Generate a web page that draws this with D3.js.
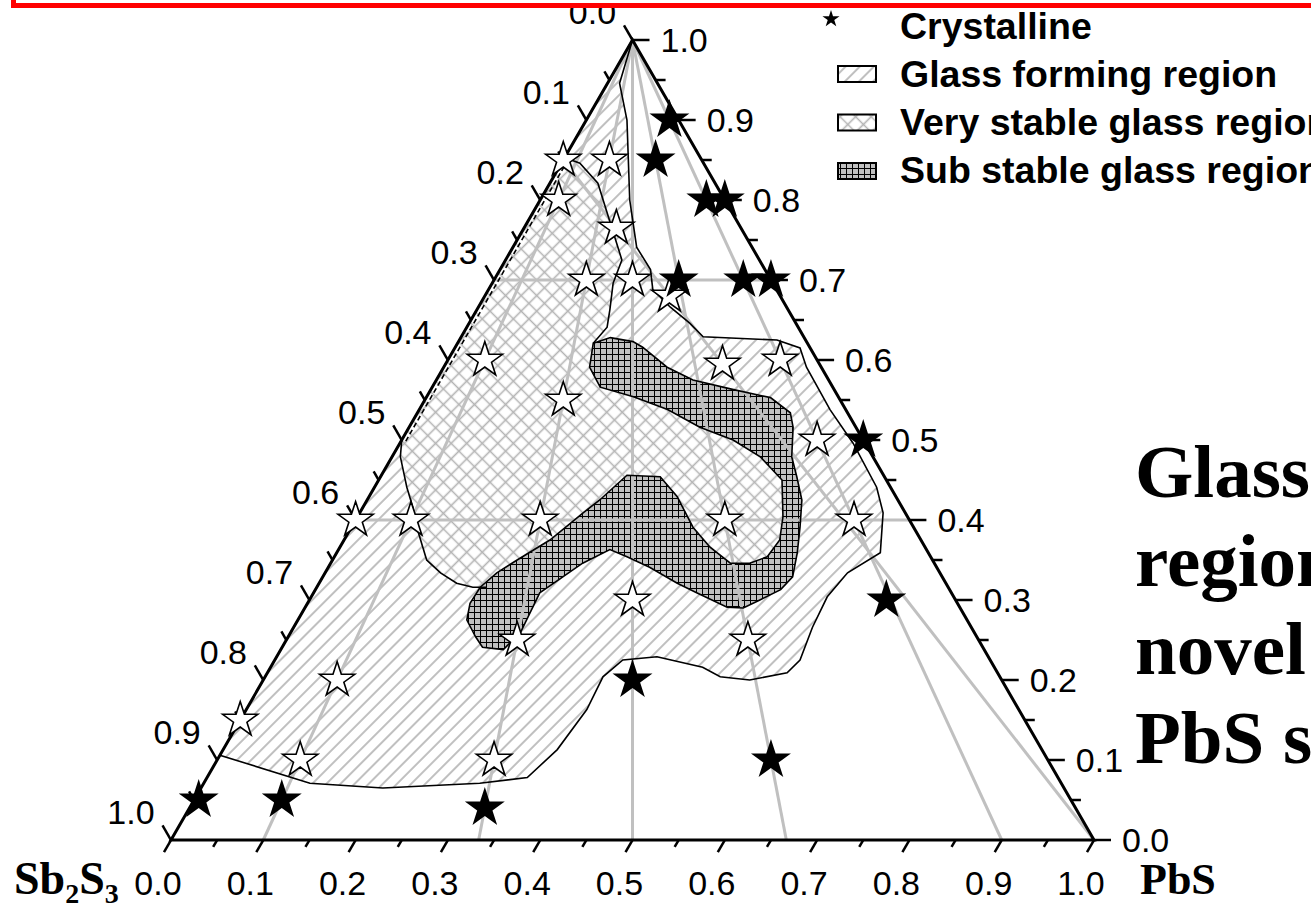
<!DOCTYPE html>
<html>
<head>
<meta charset="utf-8">
<script src="https://cdn.jsdelivr.net/npm/d3@7"></script>
<style>
  body { margin: 0; background: #fff; }
  svg { display: block; }
  text { font-family: Arial, "Liberation Sans", sans-serif; }
</style>
</head>
<body>
<svg id="chart" width="1311" height="905"></svg>
<script>
// compositions are [PbS, top component]; Sb2S3 = 1 - PbS - top
var crystalline = [[0.09,0.90],[0.10,0.85],[0.18,0.80],[0.20,0.80],[0.20,0.70],[0.27,0.70],[0.30,0.70],
  [0.50,0.50],[0.625,0.30],[0.40,0.20],[0.60,0.10],[0.005,0.05],[0.095,0.05],[0.32,0.04]];
var glassy = [[0,0.85],[0.05,0.85],[0.02,0.80],[0.10,0.765],[0.10,0.70],[0.15,0.70],[0.20,0.68],
  [0.04,0.60],[0.15,0.55],[0.30,0.595],[0.36,0.60],[0.45,0.50],[0,0.40],[0.06,0.40],[0.20,0.40],
  [0.40,0.40],[0.54,0.40],[0.35,0.30],[0.25,0.25],[0.50,0.25],[0.08,0.20],[0,0.15],[0.09,0.10],[0.30,0.10]];

// pseudo-binary joins
var joinRatios = [0.1, 1/3, 0.5, 2/3, 0.9];
var levelLines = [0.7, 0.4];
var pbsJoinEnd = [0, 0.85];

var glassRegion = [[0,1],[0.013,0.946],[0.044,0.900],[0.097,0.800],[0.134,0.741],[0.163,0.713],[0.178,0.688],
  [0.208,0.666],[0.239,0.646],[0.262,0.629],[0.344,0.625],[0.374,0.615],[0.393,0.591],[0.445,0.538],
  [0.491,0.496],[0.544,0.441],[0.567,0.409],[0.589,0.359],[0.566,0.334],[0.559,0.304],[0.562,0.266],
  [0.569,0.225],[0.563,0.209],[0.527,0.200],[0.493,0.204],[0.468,0.216],[0.412,0.229],[0.377,0.225],
  [0.366,0.204],[0.369,0.163],[0.362,0.113],[0.347,0.078],[0.299,0.071],[0.197,0.065],[0.115,0.071],[0,0.106]];

var stableTop = [[0,0.853],[0.020,0.846],[0.052,0.821],[0.126,0.725],[0.131,0.696],[0.144,0.663],[0.152,0.641],[0.147,0.621]];
var stableBottom = [[0,0.5],[0.009,0.479],[0.035,0.441],[0.054,0.416],[0.073,0.388],[0.102,0.350],
  [0.125,0.334],[0.149,0.321],[0.169,0.316],[0.184,0.316]];

var subStable = [[0.147,0.621],[0.162,0.628],[0.189,0.623],[0.203,0.616],[0.242,0.591],[0.278,0.575],
  [0.328,0.563],[0.373,0.553],[0.404,0.534],[0.416,0.516],[0.433,0.479],[0.451,0.454],[0.471,0.425],
  [0.486,0.391],[0.499,0.359],[0.509,0.329],[0.504,0.313],[0.488,0.300],[0.475,0.290],[0.457,0.291],
  [0.415,0.309],[0.388,0.321],[0.348,0.341],[0.317,0.354],[0.294,0.363],[0.273,0.346],[0.260,0.329],
  [0.245,0.309],[0.249,0.259],[0.241,0.238],[0.217,0.241],[0.203,0.254],[0.183,0.275],[0.176,0.296],
  [0.177,0.316],[0.186,0.334],[0.200,0.350],[0.223,0.375],[0.242,0.409],[0.252,0.425],[0.266,0.456],
  [0.303,0.454],[0.334,0.429],[0.370,0.391],[0.401,0.366],[0.433,0.346],[0.454,0.346],[0.469,0.354],
  [0.472,0.375],[0.461,0.404],[0.437,0.450],[0.399,0.479],[0.359,0.500],[0.315,0.516],[0.269,0.538],
  [0.224,0.554],[0.182,0.566],[0.158,0.591]];

var tickLabels = ["0.0","0.1","0.2","0.3","0.4","0.5","0.6","0.7","0.8","0.9","1.0"];
var legendItems = ["Crystalline", "Glass forming region", "Very stable glass region", "Sub stable glass region"];
var titleLines = ["Glass forming", "region of the", "novel system", "PbS system"];

var svg = d3.select("#chart");

var xScale = d3.scaleLinear().domain([0, 1]).range([171, 1094]);
var yScale = d3.scaleLinear().domain([0, 1]).range([840, 40]);
function pt(d) { return [xScale(d[0] + d[1] / 2), yScale(d[1])]; }
var line = d3.line().x(function(d) { return pt(d)[0]; }).y(function(d) { return pt(d)[1]; });

// patterns
var defs = svg.append("defs");
var slash = defs.append("pattern").attr("id", "slash").attr("patternUnits", "userSpaceOnUse")
  .attr("width", 10).attr("height", 10).attr("patternTransform", "rotate(45)");
slash.append("rect").attr("width", 10).attr("height", 10).attr("fill", "#fff");
slash.append("line").attr("x1", 5).attr("y1", -1).attr("x2", 5).attr("y2", 11)
  .attr("stroke", "#b0b0b0").attr("stroke-width", 1.6);

var cross = defs.append("pattern").attr("id", "cross").attr("patternUnits", "userSpaceOnUse")
  .attr("width", 11).attr("height", 11).attr("patternTransform", "rotate(45)");
cross.append("rect").attr("width", 11).attr("height", 11).attr("fill", "#fff");
cross.append("path").attr("d", "M5.5,-1V12M-1,5.5H12")
  .attr("stroke", "#b4b4b4").attr("stroke-width", 1.6);

var grid = defs.append("pattern").attr("id", "grid").attr("patternUnits", "userSpaceOnUse")
  .attr("width", 6).attr("height", 6);
grid.append("rect").attr("width", 6).attr("height", 6).attr("fill", "#c0c0c0");
grid.append("path").attr("d", "M0,0.5H6M0.5,0V6").attr("stroke", "#000").attr("stroke-width", 1);

// regions
svg.append("path").attr("d", line(glassRegion) + "Z").attr("fill", "url(#slash)");
var stableFill = stableTop.concat(subStable.slice(1, 35), stableBottom.slice().reverse());
svg.append("path").attr("d", line(stableFill) + "Z").attr("fill", "url(#cross)");
svg.append("path").attr("d", line(subStable) + "Z").attr("fill", "url(#grid)");

// grey join lines
var grey = svg.append("g").attr("stroke", "#c0c0c0").attr("stroke-width", 3).attr("fill", "none");
joinRatios.forEach(function(r) {
  grey.append("path").attr("d", line([[0, 1], [r, 0]]));
});
levelLines.forEach(function(c) {
  grey.append("path").attr("d", line([[0, c], [1 - c, c]]));
});
grey.append("path").attr("d", line([[1, 0], pbsJoinEnd]));

// outlines
var outl = svg.append("g").attr("stroke", "#000").attr("stroke-width", 1.6).attr("fill", "none");
outl.append("path").attr("d", line(glassRegion) + "Z");
outl.append("path").attr("d", line(stableTop));
outl.append("path").attr("d", line(stableBottom));
outl.append("path").attr("d", line(subStable) + "Z");
var d0 = pt([0, 0.853]), d1 = pt([0, 0.5]);
outl.append("line").attr("x1", d0[0] + 3.5).attr("y1", d0[1] + 2).attr("x2", d1[0] + 3.5).attr("y2", d1[1] + 2)
  .attr("stroke-dasharray", "5,3");

// triangle frame
var L = pt([0, 0]), R = pt([1, 0]), T = pt([0, 1]);
svg.append("path").attr("d", "M" + L + "L" + R + "L" + T + "Z")
  .attr("fill", "none").attr("stroke", "#000").attr("stroke-width", 3).attr("stroke-linejoin", "miter");

var axes = svg.append("g").attr("stroke", "#000").attr("stroke-width", 2.5);
var labels = svg.append("g").attr("font-size", 34).attr("fill", "#000");
d3.range(0, 21).forEach(function(i) {
  var v = i / 20, major = i % 2 == 0, k = i / 2;
  // left axis (Sb2S3), ticks point up-left
  var p = pt([0, 1 - v]), len = major ? 17 : 10;
  axes.append("line").attr("x1", p[0]).attr("y1", p[1]).attr("x2", p[0] - 0.5 * len).attr("y2", p[1] - 0.866 * len);
  if (major) labels.append("text").attr("x", p[0] - 40).attr("y", p[1] - 28).attr("dy", "0.35em")
    .attr("text-anchor", "middle").text(tickLabels[k]);
  // right axis (top component), horizontal ticks
  p = pt([1 - v, v]);
  axes.append("line").attr("x1", p[0]).attr("y1", p[1]).attr("x2", p[0] + len).attr("y2", p[1]);
  if (major) labels.append("text").attr("x", p[0] + 28).attr("y", p[1]).attr("dy", "0.35em")
    .text(tickLabels[k]);
  // bottom axis (PbS), ticks point down-left
  p = pt([v, 0]); len = major ? 14 : 8;
  axes.append("line").attr("x1", p[0]).attr("y1", p[1]).attr("x2", p[0] - 0.5 * len).attr("y2", p[1] + 0.866 * len);
  if (major) labels.append("text").attr("x", p[0] - 13).attr("y", 895)
    .attr("text-anchor", "middle").text(tickLabels[k]);
});

// stars
function starSize(r) { return r * r / 0.8908130915292852; }
svg.append("g").selectAll("path").data(glassy).enter().append("path")
  .attr("transform", function(d) { return "translate(" + pt(d) + ")"; })
  .attr("d", d3.symbol(d3.symbolStar, starSize(18.5)))
  .attr("fill", "#fff").attr("stroke", "#000").attr("stroke-width", 1.6);
svg.append("g").selectAll("path").data(crystalline).enter().append("path")
  .attr("transform", function(d) { return "translate(" + pt(d) + ")"; })
  .attr("d", d3.symbol(d3.symbolStar, starSize(21)))
  .attr("fill", "#000");

// corner names
var sb = svg.append("text").attr("x", 14).attr("y", 894)
  .style("font-family", "'Liberation Serif','Times New Roman',serif").attr("font-weight", "bold").attr("font-size", 46);
sb.append("tspan").text("Sb");
sb.append("tspan").attr("font-size", 28).attr("dy", 9).text("2");
sb.append("tspan").attr("dy", -9).text("S");
sb.append("tspan").attr("font-size", 28).attr("dy", 9).text("3");
svg.append("text").attr("x", 1140).attr("y", 894)
  .style("font-family", "'Liberation Serif','Times New Roman',serif").attr("font-weight", "bold").attr("font-size", 44)
  .text("PbS");

// legend
var lg = svg.append("g");
lg.append("path").attr("transform", "translate(831,19)").attr("d", d3.symbol(d3.symbolStar, starSize(9))).attr("fill", "#000");
["url(#slash)", "url(#cross)", "url(#grid)"].forEach(function(f, i) {
  lg.append("rect").attr("x", 838).attr("y", 66 + i * 48.5).attr("width", 38).attr("height", 16)
    .attr("fill", f).attr("stroke", "#000").attr("stroke-width", 2);
});
legendItems.forEach(function(t, i) {
  lg.append("text").attr("x", 900).attr("y", 39 + i * 48).attr("font-size", 37.5).attr("font-weight", "bold").text(t);
});

// title block on the right
titleLines.forEach(function(t, i) {
  svg.append("text").attr("x", 1135).attr("y", 497 + i * 88.7)
    .style("font-family", "'Liberation Serif','Times New Roman',serif").attr("font-weight", "bold")
    .attr("font-size", 75).text(t);
});

// red frame at the top
svg.append("rect").attr("x", 13.5).attr("y", -30).attr("width", 1400).attr("height", 35.5)
  .attr("fill", "#fff").attr("stroke", "#ff0000").attr("stroke-width", 5);
</script>
</body>
</html>
